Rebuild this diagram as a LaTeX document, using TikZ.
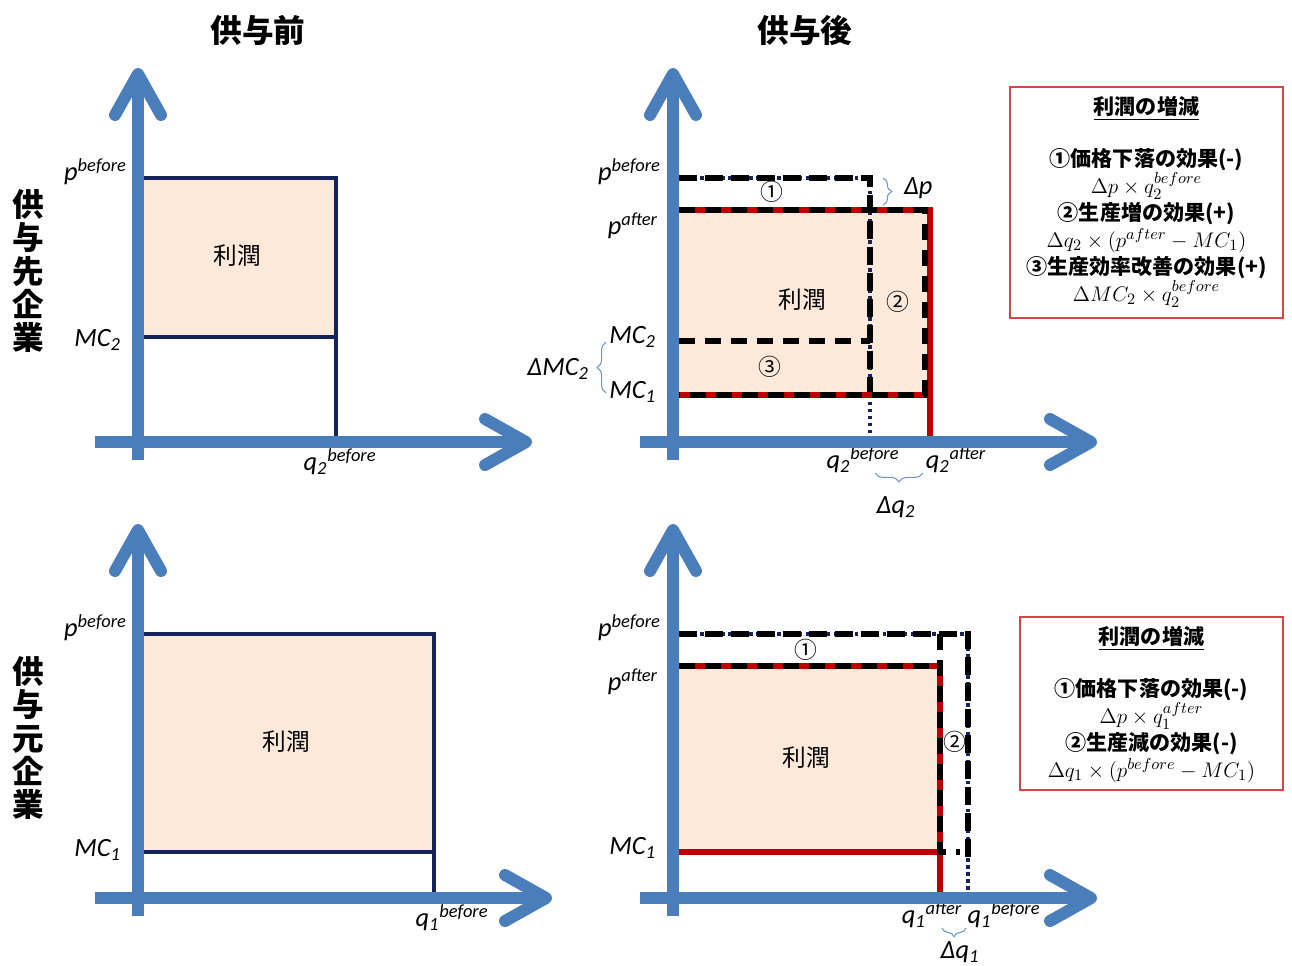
\documentclass[tikz,border=0pt]{standalone}
\usepackage{fontspec}
\setmainfont{Carlito}
\newfontfamily\jpfont{Noto Sans CJK JP}
\usetikzlibrary{arrows.meta,positioning,decorations.pathreplacing,calc}
\definecolor{axisblue}{RGB}{74,126,187}
\definecolor{profitpeach}{RGB}{252,233,218}
\definecolor{oldnavy}{RGB}{20,35,90}
\definecolor{newred}{RGB}{192,0,0}
\definecolor{boxred}{RGB}{214,70,70}
\definecolor{bracecol}{RGB}{110,150,205}
\newcommand{\boxmath}[1]{{\fontsize{13}{15.4}\selectfont$#1$}}
\tikzset{
    axis/.style={axisblue,line width=6.8pt,-{Straight Barb[length=0.82cm,width=0.92cm,round]}},
    profit/.style={fill=profitpeach},
    oldline/.style={oldnavy,line width=1.8pt},
    olddots/.style={oldnavy,line width=1.8pt,dash pattern=on 2pt off 2pt},
    olddash/.style={black,line width=3pt,dash pattern=on 0.36cm off 0.16cm},
    newline/.style={newred,line width=3.6pt},
    effect/.style={black,line width=3pt,dash pattern=on 0.32cm off 0.2cm},
    bracket/.style={bracecol,line width=0.6pt,decorate,decoration={brace,amplitude=5pt}},
    heading/.style={font=\jpfont\bfseries\fontsize{18}{20}\selectfont},
    rowlabel/.style={font=\jpfont\bfseries\fontsize{18}{19}\selectfont,align=center,inner sep=0pt},
    profitlabel/.style={font=\jpfont\fontsize{13.5}{15}\selectfont},
    circnum/.style={font=\jpfont\fontsize{13}{15}\selectfont,inner sep=0pt},
    axislabel/.style={font=\fontsize{15}{17}\selectfont\itshape,inner sep=1pt},
    infobox/.style={draw=boxred,line width=0.8pt,inner sep=0pt},
    boxtext/.style={font=\jpfont\bfseries\fontsize{12}{15.4}\selectfont,align=center,inner sep=0pt},
}

\begin{document}
\begin{tikzpicture}[x=0.02cm,y=-0.02cm]
    \useasboundingbox (0,0) rectangle (1292,965);

    % headings
    \node[heading] (TitleBefore) at (258,30) {供与前};
    \node[heading] (TitleAfter) at (805,30) {供与後};
    \node[rowlabel] (RowReceiver) at (28,271) {供\\与\\先\\企\\業};
    \node[rowlabel] (RowGiver) at (28,738) {供\\与\\元\\企\\業};

    % top left: before
    \fill[profit] (144,178) rectangle (336,337);
    \draw[oldline] (144,178) -- (336,178) -- (336,442);
    \draw[oldline] (144,337) -- (336,337);
    \node[profitlabel] (ProfitTL) at (237,256) {利潤};
    \node[axislabel,anchor=east] (PBeforeTL) at (129,172) {p\textsuperscript{before}};
    \node[axislabel,anchor=east] (MCTwoTL) at (123,340) {MC\textsubscript{2}};
    \node[axislabel] (QBeforeTL) at (340,462) {q\textsubscript{2}\textsuperscript{before}};
    \draw[axis] (138,460) -- (138,68);
    \draw[axis] (95,442) -- (532,442);

    % top right: after
    \fill[profit] (679,210) rectangle (930,395);
    \draw[olddots] (679,178) -- (870,178) -- (870,442);
    \draw[olddash] (679,178) -- (870,178) -- (870,395);
    \draw[newline] (679,210) -- (930,210) -- (930,442);
    \draw[newline] (679,395) -- (930,395);
    \draw[effect] (679,210) -- (925,210) -- (925,395) -- (679,395);
    \draw[effect] (679,341) -- (870,341);
    \node[profitlabel] (ProfitTR) at (802,300) {利潤};
    \node[circnum] (EffOneTR) at (772,192) {①};
    \node[circnum] (EffTwoTR) at (898,302) {②};
    \node[circnum] (EffThreeTR) at (770,367) {③};
    \node[axislabel,anchor=east] (PBeforeTR) at (663,172) {p\textsuperscript{before}};
    \node[axislabel,anchor=east] (PAfterTR) at (660,226) {p\textsuperscript{after}};
    \node[axislabel,anchor=east] (MCTwoTR) at (658,337) {MC\textsubscript{2}};
    \node[axislabel,anchor=east] (MCOneTR) at (658,392) {MC\textsubscript{1}};
    \node[axislabel] (QBeforeTR) at (863,460) {q\textsubscript{2}\textsuperscript{before}};
    \node[axislabel] (QAfterTR) at (956,460) {q\textsubscript{2}\textsuperscript{after}};
    \draw[bracket] (883,178) -- (883,205);
    \node[axislabel,anchor=west] (DeltaP) at (902,188) {Δp};
    \draw[bracket] (606,393) -- (606,342);
    \node[axislabel,anchor=east] (DeltaMC) at (591,369) {ΔMC\textsubscript{2}};
    \draw[bracket] (923,473) -- (875,473);
    \node[axislabel] (DeltaQTwo) at (896,507) {Δq\textsubscript{2}};
    \draw[axis] (673,460) -- (673,68);
    \draw[axis] (640,442) -- (1097,442);

    % bottom left: before
    \fill[profit] (144,634) rectangle (434,852);
    \draw[oldline] (144,634) -- (434,634) -- (434,897);
    \draw[oldline] (144,852) -- (434,852);
    \node[profitlabel] (ProfitBL) at (286,742) {利潤};
    \node[axislabel,anchor=east] (PBeforeBL) at (129,628) {p\textsuperscript{before}};
    \node[axislabel,anchor=east] (MCOneBL) at (123,850) {MC\textsubscript{1}};
    \node[axislabel] (QBeforeBL) at (452,918) {q\textsubscript{1}\textsuperscript{before}};
    \draw[axis] (138,916) -- (138,524);
    \draw[axis] (95,898) -- (552,898);

    % bottom right: after
    \fill[profit] (679,666) rectangle (940,852);
    \draw[olddots] (679,634) -- (968,634) -- (968,897);
    \draw[olddash] (679,634) -- (968,634) -- (968,860);
    \draw[newline] (679,666) -- (940,666) -- (940,897);
    \draw[newline] (679,852) -- (940,852);
    \draw[effect] (679,666) -- (940,666);
    \draw[effect] (940,634) -- (940,852) -- (960,852);
    \node[profitlabel] (ProfitBR) at (806,758) {利潤};
    \node[circnum] (EffOneBR) at (806,650) {①};
    \node[circnum] (EffTwoBR) at (955,742) {②};
    \node[axislabel,anchor=east] (PBeforeBR) at (663,628) {p\textsuperscript{before}};
    \node[axislabel,anchor=east] (PAfterBR) at (660,682) {p\textsuperscript{after}};
    \node[axislabel,anchor=east] (MCOneBR) at (658,848) {MC\textsubscript{1}};
    \node[axislabel] (QAfterBR) at (932,915) {q\textsubscript{1}\textsuperscript{after}};
    \node[axislabel] (QBeforeBR) at (1004,915) {q\textsubscript{1}\textsuperscript{before}};
    \draw[bracket] (966,928) -- (942,928);
    \node[axislabel] (DeltaQOne) at (960,952) {Δq\textsubscript{1}};
    \draw[axis] (673,916) -- (673,524);
    \draw[axis] (640,898) -- (1097,898);

    % summary boxes
    \node[infobox,minimum width=5.46cm,minimum height=4.62cm] (GainBoxTop) at (1146.5,202.5) {};
    \node[boxtext,anchor=north] (GainTextTop) at ($(GainBoxTop.north)+(0,10)$)
        {\underline{利潤の増減}\\[14pt]
         ①価格下落の効果(-)\\ \boxmath{\Delta p\times q_2^{before}}\\
         ②生産増の効果(+)\\ \boxmath{\Delta q_2\times(p^{after}-MC_1)}\\
         ③生産効率改善の効果(+)\\ \boxmath{\Delta MC_2\times q_2^{before}}};
    \node[infobox,minimum width=5.26cm,minimum height=3.46cm] (GainBoxBottom) at (1151.5,703.5) {};
    \node[boxtext,anchor=north] (GainTextBottom) at ($(GainBoxBottom.north)+(0,10)$)
        {\underline{利潤の増減}\\[14pt]
         ①価格下落の効果(-)\\ \boxmath{\Delta p\times q_1^{after}}\\
         ②生産減の効果(-)\\ \boxmath{\Delta q_1\times(p^{before}-MC_1)}};
\end{tikzpicture}
\end{document}
